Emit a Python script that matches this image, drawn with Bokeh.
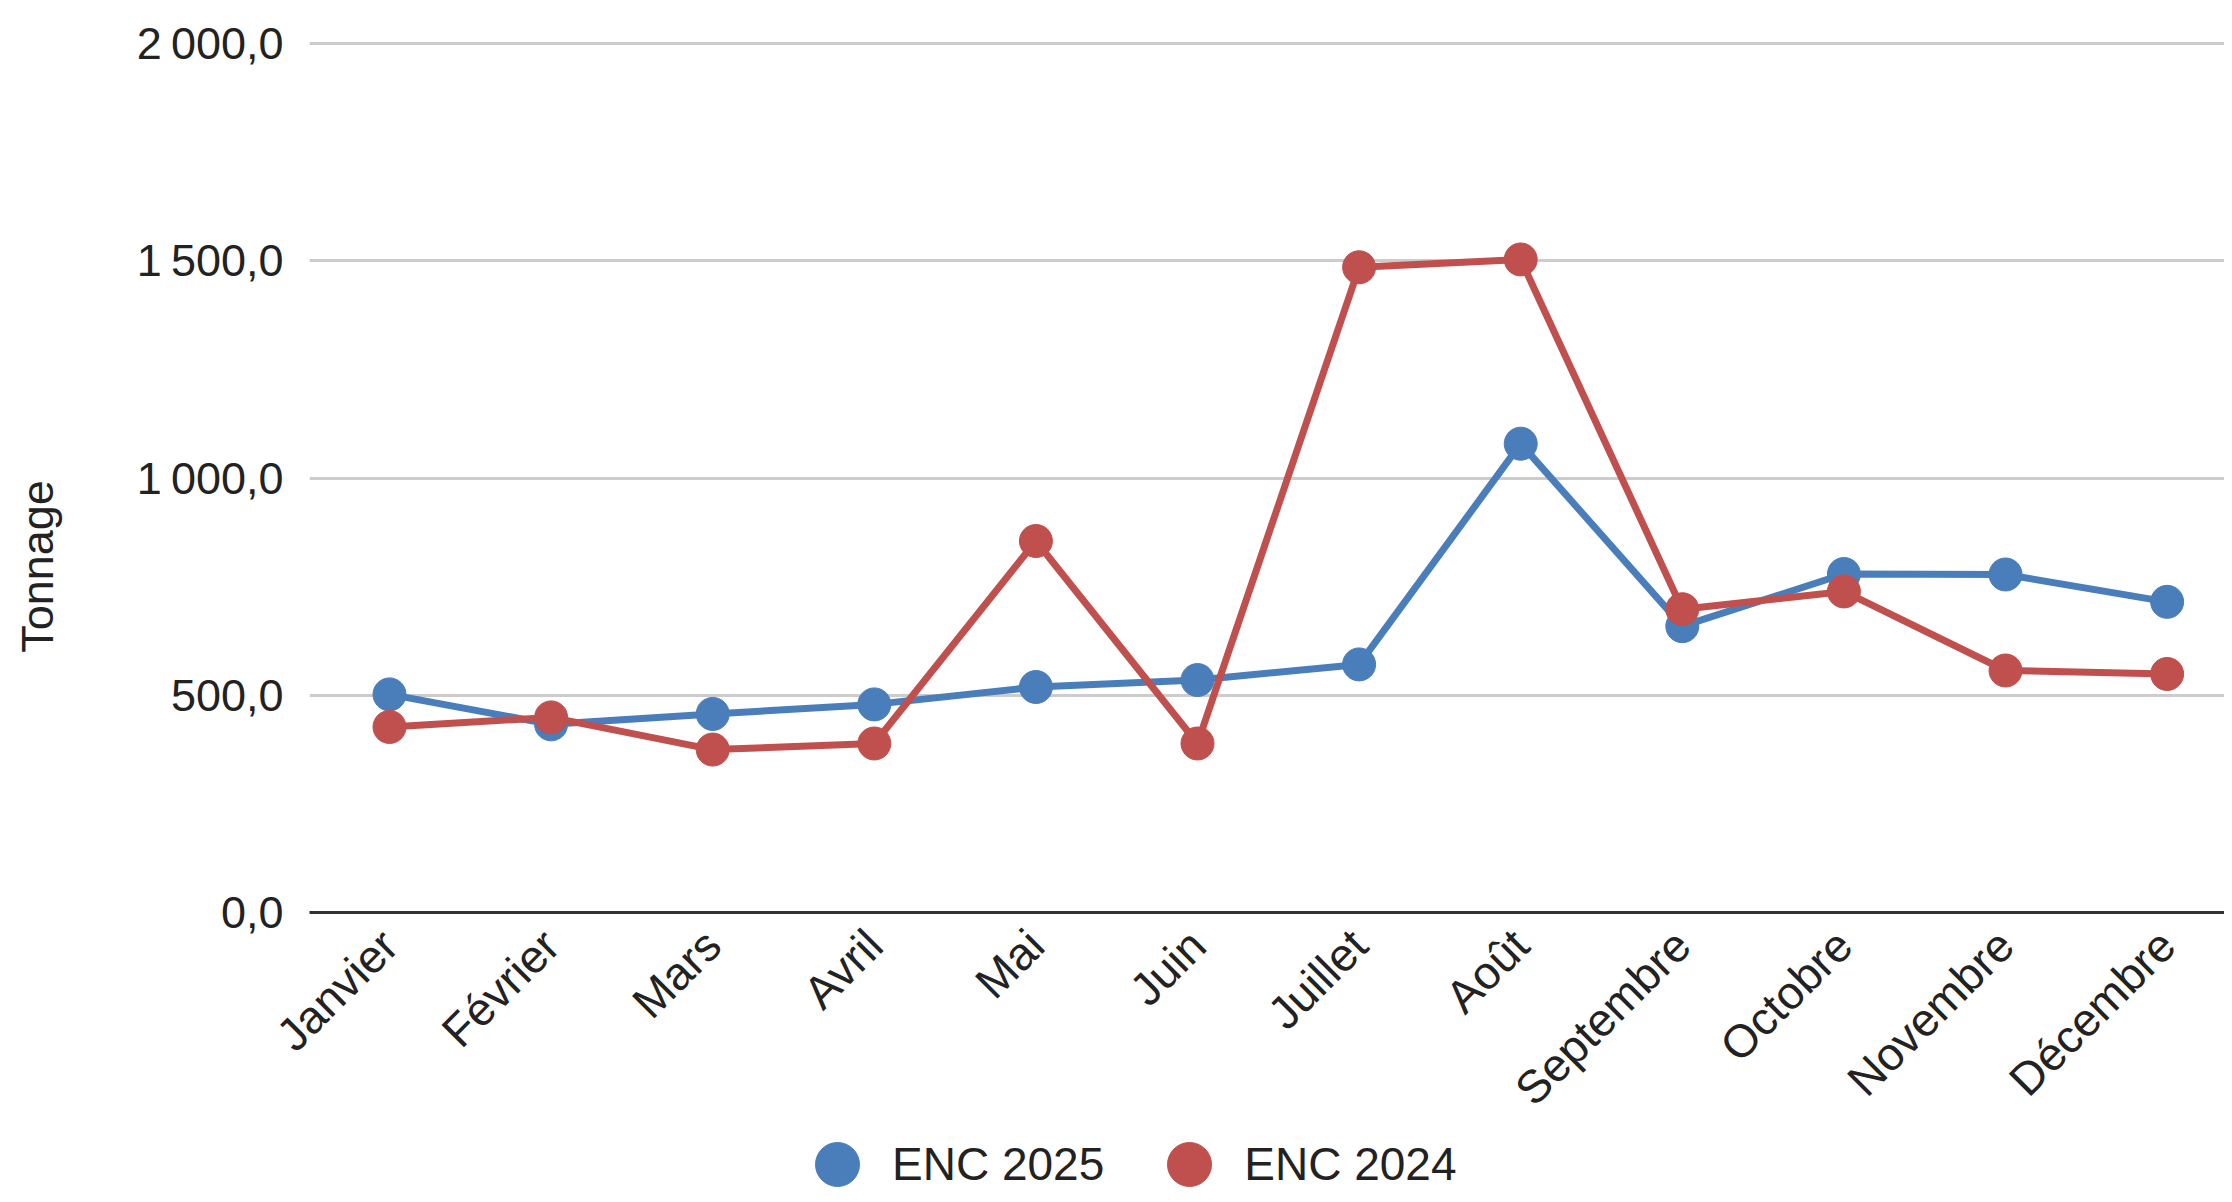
from bokeh.plotting import figure
from bokeh.models import Range1d, FixedTicker, Legend, LegendItem
from bokeh.layouts import column
from bokeh.embed import file_html
from bokeh.resources import INLINE
import math

months = ["Janvier", "Février", "Mars", "Avril", "Mai", "Juin", "Juillet",
          "Août", "Septembre", "Octobre", "Novembre", "Décembre"]
enc_2025 = [502, 433, 457, 479, 519, 535, 571, 1079, 659, 779, 778, 715]
enc_2024 = [427, 449, 375, 389, 855, 389, 1485, 1503, 698, 739, 557, 549]
y_ticks = [0, 500, 1000, 1500, 2000]
y_tick_labels = ["0,0", "500,0", "1\u202f000,0", "1\u202f500,0", "2\u202f000,0"]
y_title = "Tonnage"
series_names = ["ENC 2025", "ENC 2024"]

BLUE = "#4a7ebb"
RED = "#c0504d"
FONT = "Liberation Sans"
TXT = "#222222"

x = list(range(len(months)))

p = figure(width=2224, height=1136, output_backend="svg", toolbar_location=None,
           x_range=Range1d(-0.495, 11.355), y_range=Range1d(0, 2053),
           min_border_left=309, min_border_right=0, min_border_top=20,
           min_border_bottom=223)
p.outline_line_color = None
p.background_fill_color = "white"

# x axis
p.xaxis.ticker = FixedTicker(ticks=x)
p.xaxis.major_label_overrides = {i: m for i, m in zip(x, months)}
p.xaxis.major_label_orientation = math.pi / 4
p.xaxis.major_tick_line_color = None
p.xaxis.minor_tick_line_color = None
p.xaxis.major_tick_out = 0
p.xaxis.major_label_standoff = 25
p.xaxis.axis_line_color = "#333333"
p.xaxis.axis_line_width = 3
p.xaxis.major_label_text_font = FONT
p.xaxis.major_label_text_font_size = "46px"
p.xaxis.major_label_text_color = TXT

# y axis
p.yaxis.ticker = FixedTicker(ticks=y_ticks)
p.yaxis.major_label_overrides = {t: l for t, l in zip(y_ticks, y_tick_labels)}
p.yaxis.axis_line_color = None
p.yaxis.major_tick_line_color = None
p.yaxis.minor_tick_line_color = None
p.yaxis.major_tick_out = 0
p.yaxis.major_label_standoff = 26
p.yaxis.major_label_text_font = FONT
p.yaxis.major_label_text_font_size = "45px"
p.yaxis.major_label_text_color = TXT
# trailing no-break spaces push the visible title lower, as in the reference
p.yaxis.axis_label = y_title + "\u00a0" * 16
p.yaxis.axis_label_standoff = 71
p.yaxis.axis_label_text_font = FONT
p.yaxis.axis_label_text_font_size = "45px"
p.yaxis.axis_label_text_font_style = "normal"
p.yaxis.axis_label_text_color = TXT

p.xgrid.grid_line_color = None
p.ygrid.grid_line_color = "#cccccc"
p.ygrid.grid_line_width = 3

# series
l1 = p.line(x, enc_2025, line_color=BLUE, line_width=7)
s1 = p.scatter(x, enc_2025, size=33, fill_color=BLUE, line_color=BLUE)
l2 = p.line(x, enc_2024, line_color=RED, line_width=7)
s2 = p.scatter(x, enc_2024, size=33, fill_color=RED, line_color=RED)

# legend strip below the chart (legend proxies lie outside its visible range)
leg = figure(width=2224, height=58, output_backend="svg", toolbar_location=None,
             x_range=Range1d(1, 2), y_range=Range1d(1, 2), min_border=0,
             x_axis_location=None, y_axis_location=None)
leg.outline_line_color = None
leg.xgrid.visible = False
leg.ygrid.visible = False
k1 = leg.scatter([0], [0], size=33, fill_color=BLUE, line_color=BLUE)
k2 = leg.scatter([0], [0], size=33, fill_color=RED, line_color=RED)
legend = Legend(items=[LegendItem(label=series_names[0], renderers=[k1]),
                       LegendItem(label=series_names[1], renderers=[k2])],
                orientation="horizontal", location=(473, -25),
                glyph_width=110, glyph_height=110, label_standoff=0,
                spacing=30, padding=0, margin=0,
                border_line_color=None, background_fill_alpha=0,
                label_text_font=FONT, label_text_font_size="46px",
                label_text_color=TXT)
leg.add_layout(legend, "center")

layout = column(p, leg, spacing=0)
open("out.html", "w").write(file_html(layout, INLINE))
